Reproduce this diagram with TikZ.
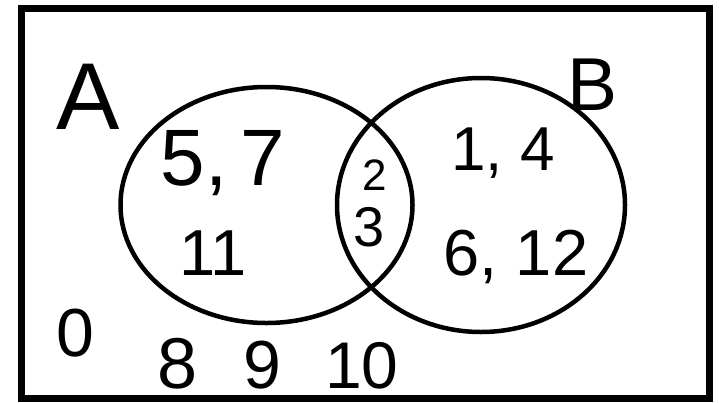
\documentclass[tikz,border=0pt]{standalone}
\usepackage{fontspec}
\setmainfont{Liberation Sans}
\usepackage{tikz}
\usepackage{xcolor}

\newcommand{\fs}[1]{\fontsize{#1}{#1}\selectfont}

\begin{document}
\begin{tikzpicture}[x=1pt,y=-1pt]
\useasboundingbox (0,0) rectangle (719,402);
% frame
\draw[line width=7pt] (21.5,8) rectangle (709,398);
% the two sets
\draw[line width=4.5pt] (266.5,205) ellipse [x radius=146,y radius=118];
\draw[line width=4.5pt] (481,205) ellipse [x radius=144,y radius=127];
% set names
\node (labA) at (88,97) {\fs{95}A};
\node (labB) at (593,85) {\fs{75}B};
% only A
\node (onlyA1) at (223,163) {\fs{80}5,\,7};
\node (onlyA2) at (213,253) {\fs{65}11};
% A and B
\node (both1) at (375,175) {\fs{44}2};
\node (both2) at (369,227) {\fs{56}3};
% only B
\node (onlyB1) at (503,153) {\fs{62}1, 4};
\node (onlyB2) at (516,257) {\fs{65}6, 12};
% outside
\node (out0) at (75,333) {\fs{68}0};
\node[inner sep=0pt,anchor=base] (out8) at (178,388) {\fs{72}8};
\node[inner sep=0pt,anchor=base] (out9) at (262,388) {\fs{68}9};
\node[inner sep=0pt,anchor=base] (out10) at (362,388) {\fs{66}10};
\end{tikzpicture}
\end{document}
